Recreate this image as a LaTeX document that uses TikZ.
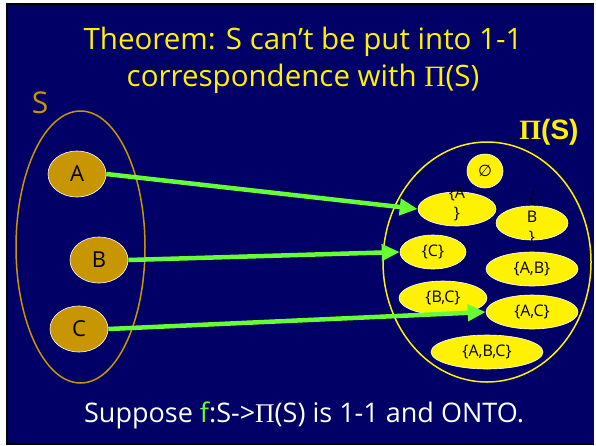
\documentclass[tikz,border=0pt]{standalone}
\usepackage{fontspec}
\setmainfont{Open Sans}
\newfontfamily\symfont{Liberation Serif}
\newfontfamily\boldsans{Liberation Sans}
\newfontfamily\dejavu{DejaVu Sans}
\usetikzlibrary{shapes.geometric,arrows.meta}
\definecolor{navy}{RGB}{0,0,102}
\definecolor{gold}{RGB}{200,150,0}
\definecolor{lime}{RGB}{102,255,51}
\newcommand{\stacked}[1]{\smash{\begin{tabular}{@{}c@{}}#1\end{tabular}}}
\begin{document}
\begin{tikzpicture}[x=1pt,y=-1pt,
    elem/.style={ellipse,draw=white,line width=0.6pt,fill=gold,minimum width=58pt,
      minimum height=46pt,inner sep=0pt,font=\fontsize{22}{22}\selectfont},
    sub/.style={ellipse,draw=white,line width=0.6pt,fill=yellow,minimum height=34pt,
      inner sep=0pt,align=center,font=\fontsize{16}{20}\selectfont},
    maps/.style={lime,line width=4.5pt,-{Triangle[length=18pt,width=16pt]}}]
  \useasboundingbox (0,0) rectangle (596,445);
  \fill[white] (0,0) rectangle (596,445);
  \fill[black] (6,3) rectangle (594,445);
  \fill[navy] (8,5) rectangle (594,443);
  % title
  \node[yellow,font=\fontsize{29.5}{37}\selectfont,align=center] (title) at (303,60)
    {Theorem: S can't be put into 1-1\\ correspondence with {\symfont Π}(S)};
  % the set S
  \node[gold,font=\fontsize{30}{30}\selectfont] (slabel) at (40,103) {S};
  \draw[gold,line width=1.5pt] (80.5,247) ellipse (64.5 and 136);
  \node[elem] (a) at (77,174) {A};
  \node[elem] (b) at (99,260) {B};
  \node[elem] (c) at (79,329) {C};
  % the power set
  \node[yellow,font=\fontsize{28}{28}\selectfont\bfseries] (plabel) at (549,132)
    {{\symfont Π}{\boldsans(S)}};
  \draw[yellow,line width=1.5pt] (487,262) ellipse (104 and 120);
  \node[sub,minimum width=36pt] (pe) at (485,171) {{\dejavu ∅}};
  \node[sub,minimum width=78pt] (pa) at (457,209) {\stacked{\{A\\\}}};
  \node[sub,minimum width=72pt] (pb) at (532,223) {\stacked{\{\\B\\\}}};
  \node[sub,minimum width=66pt] (pc) at (433,252) {\{C\}};
  \node[sub,minimum width=92pt] (pab) at (532,269) {\{A,B\}};
  \node[sub,minimum width=88pt] (pbc) at (443,298) {\{B,C\}};
  \node[sub,minimum width=92pt] (pac) at (532,312) {\{A,C\}};
  \node[sub,minimum width=112pt] (pabc) at (487,352) {\{A,B,C\}};
  % the map f
  \draw[maps] (a.east) -- (pa.west);
  \draw[maps] (b.east) -- (pc.west);
  \draw[maps] (c.east) -- (pac.west);
  \node[white,font=\fontsize{27}{27}\selectfont] (claim) at (304,415)
    {Suppose {\color{lime}f}:S->{\symfont Π}(S) is 1-1 and ONTO.};
\end{tikzpicture}
\end{document}
